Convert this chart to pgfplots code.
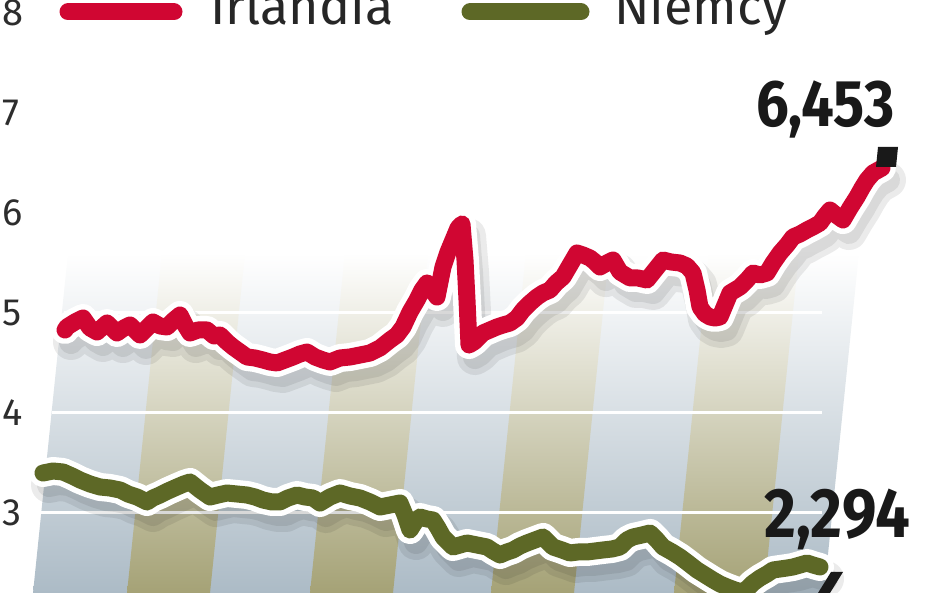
\documentclass[border=0pt]{standalone}
\usepackage{fontspec}
\setmainfont{Fira Sans}
\newfontfamily\numfont{Fira Sans}[UprightFont=* Bold, FakeStretch=0.88]
\usepackage{pgfplots}
\usepackage{pgfplotstable}
\pgfplotsset{compat=1.18}
\definecolor{irl}{RGB}{208,6,50}
\definecolor{nie}{RGB}{93,104,38}
\definecolor{bggray}{RGB}{172,187,198}
\definecolor{bgolive}{RGB}{165,162,118}
\definecolor{ticktext}{RGB}{45,45,45}

\pgfplotstableread{
x y
65 4.83
67 4.86
75 4.91
83 4.95
90 4.85
97 4.81
107 4.90
117 4.80
124 4.85
130 4.88
140 4.78
147 4.85
153 4.91
160 4.87
167 4.86
174 4.93
180 4.98
185 4.88
190 4.80
198 4.83
207 4.83
214 4.77
220 4.78
227 4.71
233 4.66
240 4.61
247 4.56
255 4.55
263 4.53
270 4.51
277 4.50
285 4.53
293 4.56
300 4.59
307 4.61
315 4.56
323 4.53
330 4.51
340 4.55
350 4.56
360 4.58
370 4.60
380 4.65
390 4.73
397 4.78
403 4.86
410 5.01
417 5.13
422 5.23
427 5.30
432 5.23
437 5.16
443 5.46
448 5.61
453 5.73
458 5.85
462 5.89
465 5.53
467 5.13
469 4.68
474 4.71
478 4.75
483 4.80
490 4.83
497 4.86
503 4.88
510 4.90
517 4.95
523 5.03
530 5.10
537 5.16
543 5.20
550 5.23
556 5.30
563 5.36
570 5.48
577 5.60
583 5.58
590 5.55
595 5.51
600 5.46
607 5.50
613 5.53
620 5.41
630 5.35
638 5.35
647 5.33
655 5.43
663 5.53
671 5.51
680 5.50
687 5.47
693 5.40
697 5.23
700 5.06
705 4.99
710 4.96
715 4.95
720 4.96
725 5.08
730 5.20
735 5.23
740 5.26
747 5.33
753 5.40
760 5.38
767 5.40
773 5.50
780 5.60
787 5.68
793 5.76
800 5.79
807 5.83
813 5.86
820 5.90
825 5.97
830 6.03
836 5.98
843 5.93
850 6.05
857 6.16
862 6.25
867 6.33
873 6.40
882 6.45
}\irlandia

\pgfplotstableread{
x y
43 3.40
53 3.42
63 3.41
72 3.37
80 3.33
90 3.29
100 3.26
110 3.25
120 3.23
128 3.19
137 3.16
147 3.11
153 3.15
160 3.18
168 3.22
177 3.26
184 3.29
190 3.31
195 3.27
200 3.23
210 3.16
218 3.18
227 3.20
237 3.19
247 3.18
255 3.16
263 3.13
272 3.11
280 3.11
288 3.15
297 3.18
305 3.16
313 3.15
320 3.10
330 3.16
340 3.20
350 3.17
360 3.15
370 3.11
380 3.06
390 3.08
400 3.10
405 2.98
410 2.83
415 2.91
420 2.96
427 2.94
433 2.93
438 2.85
443 2.76
448 2.71
453 2.66
460 2.68
467 2.70
477 2.68
487 2.66
493 2.62
500 2.58
507 2.61
513 2.63
520 2.67
527 2.70
535 2.73
543 2.76
548 2.71
553 2.66
562 2.63
570 2.60
578 2.61
587 2.61
595 2.62
603 2.63
612 2.64
620 2.66
627 2.73
633 2.76
642 2.78
650 2.80
657 2.73
663 2.66
672 2.61
680 2.56
688 2.50
697 2.43
705 2.38
713 2.33
720 2.29
727 2.26
735 2.23
742 2.21
748 2.25
753 2.30
760 2.35
767 2.39
773 2.43
780 2.44
787 2.45
793 2.46
800 2.48
807 2.50
813 2.48
820 2.46
}\niemcy

\begin{document}
\begin{tikzpicture}
\begin{axis}[
  width=948pt, height=593pt, scale only axis,
  xmin=0, xmax=948, ymin=2.2, ymax=8.13,
  axis line style={draw=none},
  xtick=\empty,
  ytick={3,4,5,6,7,8},
  major tick length=0pt,
  yticklabel style={anchor=west, inner sep=0pt, xshift=2pt,
    font=\fontsize{38}{38}\selectfont, text=ticktext},
  /pgf/number format/assume math mode=true,
  clip=true,
]
% background column
\addplot[draw=none, top color=white, bottom color=bggray, middle color=bggray!50!white]
  coordinates {(33,2.2) (68,5.6) (859,5.6) (824,2.2) (33,2.2)};
\addplot[draw=none, top color=white, bottom color=bgolive, middle color=bgolive!50!white]
  coordinates {(127,2.2) (162,5.6) (245,5.6) (210,2.2) (127,2.2)};
\addplot[draw=none, top color=white, bottom color=bgolive, middle color=bgolive!50!white]
  coordinates {(310,2.2) (345,5.6) (428,5.6) (393,2.2) (310,2.2)};
\addplot[draw=none, top color=white, bottom color=bgolive, middle color=bgolive!50!white]
  coordinates {(491,2.2) (526,5.6) (609,5.6) (574,2.2) (491,2.2)};
\addplot[draw=none, top color=white, bottom color=bgolive, middle color=bgolive!50!white]
  coordinates {(674,2.2) (709,5.6) (799,5.6) (764,2.2) (674,2.2)};
% grid lines
\addplot[white, line width=3pt] coordinates {(41,3) (822,3)};
\addplot[white, line width=3pt] coordinates {(52,4) (822,4)};
\addplot[white, line width=3pt] coordinates {(64,5) (822,5)};
% shadows
\addplot[black, opacity=0.08, line width=36pt, line join=round, line cap=round, xshift=6pt, yshift=-12pt] table {\irlandia};
\addplot[black, opacity=0.08, line width=24pt, line join=round, line cap=round, xshift=6pt, yshift=-12pt] table {\irlandia};
\addplot[black, opacity=0.08, line width=36pt, line join=round, line cap=round, xshift=6pt, yshift=-12pt] table {\niemcy};
\addplot[black, opacity=0.08, line width=24pt, line join=round, line cap=round, xshift=6pt, yshift=-12pt] table {\niemcy};
% white outlines
\addplot[white, line width=28pt, line join=round, line cap=round] table {\irlandia};
\addplot[white, line width=28pt, line join=round, line cap=round] table {\niemcy};
% series
\addplot[irl, line width=17pt, line join=round, line cap=round] table {\irlandia};
\addplot[nie, line width=17pt, line join=round, line cap=round] table {\niemcy};
% end markers
\addplot[fill=black!90, draw=none] coordinates {(876,6.46) (878,6.66) (898,6.66) (896,6.46) (876,6.46)};
\addplot[fill=black!90, draw=none] coordinates {(818,2.2) (831,2.41) (843,2.41) (830,2.2) (818,2.2)};
% value labels
\node[anchor=base west, inner sep=0pt, font=\numfont\fontsize{66}{66}\selectfont, text=black!90]
  at (axis cs:756,6.86) {6,453};
\node[anchor=base west, inner sep=0pt, font=\numfont\fontsize{70}{70}\selectfont, text=black!90]
  at (axis cs:764,2.75) {2,294};
% legend
\addplot[irl, line width=17pt, line cap=round] coordinates {(68,8.01) (174,8.01)};
\addplot[nie, line width=17pt, line cap=round] coordinates {(470,8.01) (581,8.01)};
\node[anchor=base west, inner sep=0pt, font=\fontsize{52}{52}\selectfont, text=black!85]
  at (axis cs:210,7.88) {Irlandia};
\node[anchor=base west, inner sep=0pt, font=\fontsize{52}{52}\selectfont, text=black!85]
  at (axis cs:614,7.88) {Niemcy};
\end{axis}
\pgfresetboundingbox
\path (current axis.south west) rectangle (current axis.north east);
\end{tikzpicture}
\end{document}
